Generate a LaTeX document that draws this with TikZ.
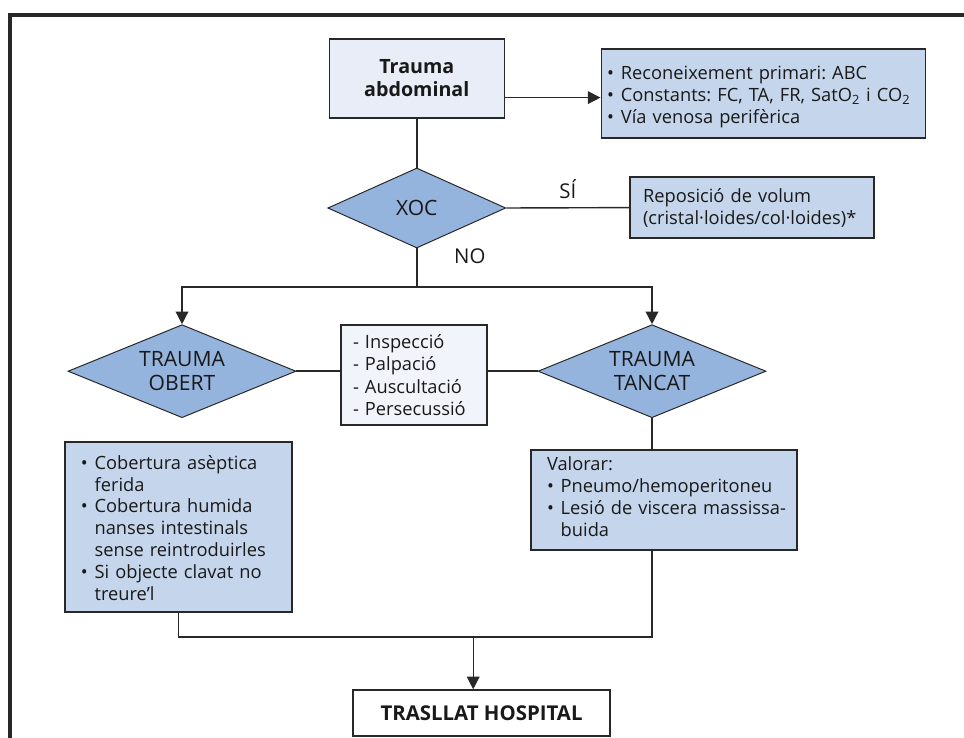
\documentclass[tikz,border=0pt]{standalone}
\usepackage{fontspec}
\setmainfont{Open Sans}
\usetikzlibrary{shapes.geometric, arrows.meta, positioning}

\definecolor{framegray}{RGB}{40,40,40}
\definecolor{linegray}{RGB}{40,40,40}
\definecolor{decfill}{RGB}{148,179,221}
\definecolor{actfill}{RGB}{197,213,236}
\definecolor{palefill}{RGB}{232,237,247}
\definecolor{palerfill}{RGB}{241,244,250}

% bullet item, wrapped lines kept under the text
\newcommand{\bitem}[1]{\par\noindent\makebox[0.75em][l]{\textbullet}%
    \parbox[t]{\dimexpr\linewidth-0.75em\relax}{\raggedright #1\strut}}
\frenchspacing

\begin{document}
\begin{tikzpicture}[
    every node/.style={text=black!90, font=\fontsize{13}{15.5}\selectfont},
    line/.style={draw=linegray, line width=1pt},
    arrow/.style={line, -{Triangle[length=9pt,width=9pt]}},
    decision/.style={diamond, draw=linegray, fill=decfill, line width=0.7pt, aspect=2.4,
        inner sep=0pt, align=center, font=\fontsize{15}{17}\selectfont},
    actionbox/.style={rectangle, draw=linegray, fill=actfill, line width=1pt, align=left},
    palebox/.style={rectangle, draw=linegray, fill=palefill, line width=1pt, align=center},
    endbox/.style={rectangle, draw=linegray, fill=white, line width=1pt,
        font=\bfseries\fontsize{14.5}{17}\selectfont}
]
    \useasboundingbox (0,0) rectangle (24.1,-18.45);
    \draw[line width=2.2pt, draw=framegray, line join=miter] (24.1,-0.375) -- (0.25,-0.375) -- (0.25,-18.45);

    % top: first assessment
    \node[palebox, minimum width=4.375cm, minimum height=1.975cm,
        font=\bfseries\fontsize{14}{16.5}\selectfont] (trauma) at (10.42,-1.96) {Trauma\\abdominal};
    \node[actionbox, text width=7.8cm, inner xsep=0.15cm, minimum height=2.225cm,
        font=\fontsize{13}{15.5}\selectfont] (primari) at (19.08,-2.34) {%
        \bitem{Reconeixement primari: ABC}%
        \bitem{Constants: FC, TA, FR, SatO\textsubscript{2} i CO\textsubscript{2}}%
        \bitem{Vía venosa perifèrica}};
    \coordinate (intoinfo) at ([yshift=-0.1cm]primari.west);
    \draw[arrow] (trauma.east |- intoinfo) -- (intoinfo);

    % shock check
    \node[decision, minimum width=4.45cm, minimum height=2cm] (xoc) at (10.42,-5.2) {XOC};
    \node[actionbox, text width=5.45cm, inner xsep=0.325cm, minimum height=1.525cm]
        (volum) at (18.8,-5.19) {Reposició de volum\\(cristal·loides/col·loides)*};
    \draw[line] (trauma.south) -- (xoc.north);
    \draw[line] (xoc.east) -- node[above=0.1cm, font=\fontsize{14.5}{17}\selectfont] {SÍ} (volum.west);

    % open / closed trauma
    \coordinate (split) at (10.42,-7.175);
    \node[decision, minimum width=5.7cm, minimum height=2.325cm] (obert) at (4.55,-9.28) {TRAUMA\\OBERT};
    \node[decision, minimum width=5.7cm, minimum height=2.325cm] (tancat) at (16.3,-9.28) {TRAUMA\\TANCAT};
    \node[palebox, fill=palerfill, align=left, text width=3.05cm, inner xsep=0.3cm,
        minimum height=2.5cm, font=\fontsize{13}{16}\selectfont]
        (explor) at (10.35,-9.375) {- Inspecció\\- Palpació\\- Auscultació\\- Persecussió};
    \draw[line] (xoc.south) -- node[pos=0.2, right=0.8cm, font=\fontsize{14.5}{17}\selectfont] {NO} (split);
    \draw[arrow] (split) -| (obert.north);
    \draw[arrow] (split) -| (tancat.north);
    \draw[line] (obert.east) -- (obert.east -| explor.west);
    \draw[line] (explor.east |- tancat.west) -- (tancat.west);

    % care on each branch
    \node[actionbox, text width=4.875cm, inner xsep=0.4cm, minimum height=4.25cm]
        (cobert) at (4.46,-13.175) {%
        \bitem{Cobertura asèptica\\ferida}%
        \bitem{Cobertura humida\\nanses intestinals\\sense reintroduirles}%
        \bitem{Si objecte clavat no\\treure’l}};
    \node[actionbox, text width=5.85cm, inner xsep=0.4cm, minimum height=2.5cm]
        (valorar) at (16.6,-12.5) {%
        Valorar:%
        \bitem{Pneumo/hemoperitoneu}%
        \bitem{\mbox{Lesió de viscera massissa-}\\buida}};
    \draw[line] (tancat.south) -- (tancat.south |- valorar.north);

    % transfer
    \coordinate (join) at (11.83,-15.925);
    \node[endbox, minimum width=6.425cm, minimum height=1.15cm] (trasllat) at (12.04,-17.825) {TRASLLAT HOSPITAL};
    \draw[line] (cobert.south) |- (join) -| (tancat |- valorar.south);
    \draw[arrow] (join) -- (join |- trasllat.north);
\end{tikzpicture}
\end{document}
